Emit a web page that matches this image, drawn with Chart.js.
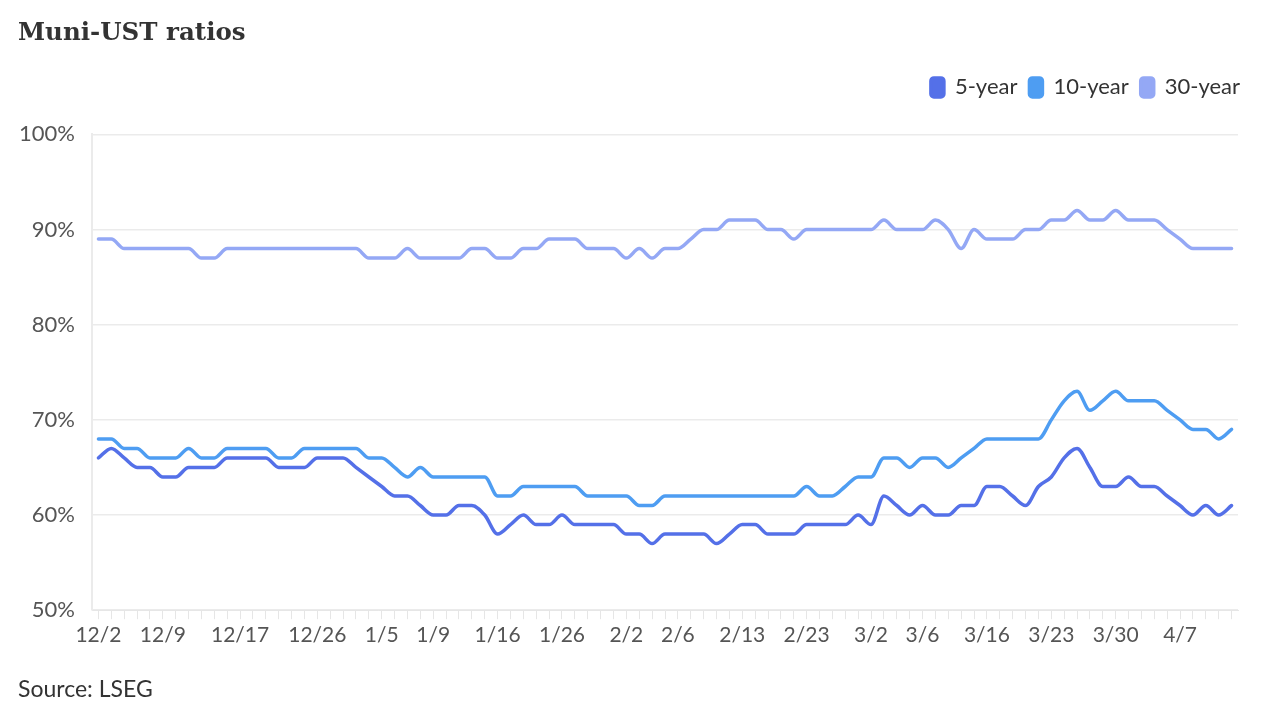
<!DOCTYPE html>
<html>
<head>
<meta charset="utf-8">
<script src="https://cdn.jsdelivr.net/npm/chart.js@4/dist/chart.umd.min.js"></script>
<style>
  html, body { margin: 0; padding: 0; background: #ffffff; }
  #wrap { position: relative; width: 1280px; height: 720px; }
  canvas { display: block; }
</style>
</head>
<body>
<div id="wrap"><canvas id="c" width="1280" height="720"></canvas></div>
<script>
const dates = [
  '12/2','12/3','12/4','12/5','12/8','12/9','12/10','12/11','12/12','12/15',
  '12/16','12/17','12/18','12/19','12/22','12/23','12/24','12/26','12/29','12/30',
  '12/31','1/2','1/5','1/6','1/7','1/8','1/9','1/12','1/13','1/14',
  '1/15','1/16','1/20','1/21','1/22','1/23','1/26','1/27','1/28','1/29',
  '1/30','2/2','2/3','2/4','2/5','2/6','2/9','2/10','2/11','2/12',
  '2/13','2/17','2/18','2/19','2/20','2/23','2/24','2/25','2/26','2/27',
  '3/2','3/3','3/4','3/5','3/6','3/9','3/10','3/11','3/12','3/16',
  '3/17','3/18','3/19','3/20','3/23','3/24','3/25','3/26','3/27','3/30',
  '3/31','4/1','4/2','4/6','4/7','4/8','4/9','4/10','4/13'
];
const tickLabels = ['12/2','12/9','12/17','12/26','1/5','1/9','1/16','1/26','2/2','2/6','2/13','2/23','3/2','3/6','3/16','3/23','3/30','4/7'];
const yTicks = [50, 60, 70, 80, 90, 100];

const fiveYear = [
  66,67,66,65,65,64,64,65,65,65,
  66,66,66,66,65,65,65,66,66,66,
  65,64,63,62,62,61,60,60,61,61,
  60,58,59,60,59,59,60,59,59,59,
  59,58,58,57,58,58,58,58,57,58,
  59,59,58,58,58,59,59,59,59,60,
  59,62,61,60,61,60,60,61,61,63,
  63,62,61,63,64,66,67,65,63,63,
  64,63,63,62,61,60,61,60,61
];
const tenYear = [
  68,68,67,67,66,66,66,67,66,66,
  67,67,67,67,66,66,67,67,67,67,
  67,66,66,65,64,65,64,64,64,64,
  64,62,62,63,63,63,63,63,62,62,
  62,62,61,61,62,62,62,62,62,62,
  62,62,62,62,62,63,62,62,63,64,
  64,66,66,65,66,66,65,66,67,68,
  68,68,68,68,70,72,73,71,72,73,
  72,72,72,71,70,69,69,68,69
];
const thirtyYear = [
  89,89,88,88,88,88,88,88,87,87,
  88,88,88,88,88,88,88,88,88,88,
  88,87,87,87,88,87,87,87,87,88,
  88,87,87,88,88,89,89,89,88,88,
  88,87,88,87,88,88,89,90,90,91,
  91,91,90,90,89,90,90,90,90,90,
  90,91,90,90,90,91,90,88,90,89,
  89,89,90,90,91,91,92,91,91,92,
  91,91,91,90,89,88,88,88,88
];
const seriesNames = ['5-year', '10-year', '30-year'];
const seriesColors = ['#5470e8', '#4e9df2', '#94a8f5'];
const seriesData = [fiveYear, tenYear, thirtyYear];

const FONT = 'Lato, "Open Sans", sans-serif';

const legendTweak = {
  id: 'legendTweak',
  beforeInit(chart) {
    const fitOrig = chart.legend.fit;
    chart.legend.fit = function() {
      fitOrig.bind(chart.legend)();
      this.height += 26;
    };
  },
  afterLayout(chart) {
    chart.legend.left += 14;
    chart.legend.right += 14;
  }
};

const chart = new Chart(document.getElementById('c'), {
  type: 'line',
  data: {
    labels: dates,
    datasets: seriesData.map((d, i) => ({
      label: seriesNames[i],
      data: d,
      borderColor: seriesColors[i],
      backgroundColor: seriesColors[i],
      borderWidth: 3.5,
      pointRadius: 0,
      pointHoverRadius: 0,
      cubicInterpolationMode: 'monotone',
      borderJoinStyle: 'round',
      borderCapStyle: 'round',
      fill: false
    }))
  },
  plugins: [legendTweak],
  options: {
    responsive: false,
    animation: false,
    devicePixelRatio: 1,
    layout: { padding: { left: 18, right: 42, top: 0, bottom: 0 } },
    plugins: {
      tooltip: { enabled: false },
      title: {
        display: true,
        text: 'Muni-UST ratios',
        align: 'start',
        color: '#333333',
        font: { family: '"DejaVu Serif", serif', weight: 'bold', size: 24.5 },
        padding: { top: 19, bottom: 16 }
      },
      subtitle: {
        display: true,
        position: 'bottom',
        text: 'Source: LSEG',
        align: 'start',
        color: '#333333',
        font: { family: FONT, size: 23 },
        padding: { top: 25, bottom: 17 }
      },
      legend: {
        display: true,
        position: 'top',
        align: 'end',
        labels: {
          color: '#333333',
          font: { family: FONT, size: 22 },
          boxWidth: 13,
          boxHeight: 19,
          useBorderRadius: true,
          borderRadius: 3,
          padding: 12
        }
      }
    },
    scales: {
      x: {
        offset: true,
        grid: {
          display: true,
          drawOnChartArea: false,
          drawTicks: true,
          tickLength: 9,
          color: '#e6e6e6',
          offset: false
        },
        border: { display: true, color: '#e6e6e6' },
        ticks: {
          autoSkip: false,
          maxRotation: 0,
          minRotation: 0,
          padding: 3,
          color: '#555555',
          font: { family: FONT, size: 21 },
          callback: function(value) {
            const lab = this.getLabelForValue(value);
            return tickLabels.includes(lab) ? lab : '';
          }
        }
      },
      y: {
        min: 50,
        max: 100,
        afterBuildTicks: (axis) => { axis.ticks = yTicks.map(v => ({ value: v })); },
        afterFit: (axis) => { axis.width = 74; },
        grid: { color: '#ebebeb', drawTicks: false, lineWidth: 1.5 },
        border: { display: true, color: '#ebebeb', width: 2 },
        ticks: {
          padding: 17,
          color: '#555555',
          font: { family: FONT, size: 22 },
          callback: (v) => v + '%'
        }
      }
    }
  }
});
</script>
</body>
</html>
